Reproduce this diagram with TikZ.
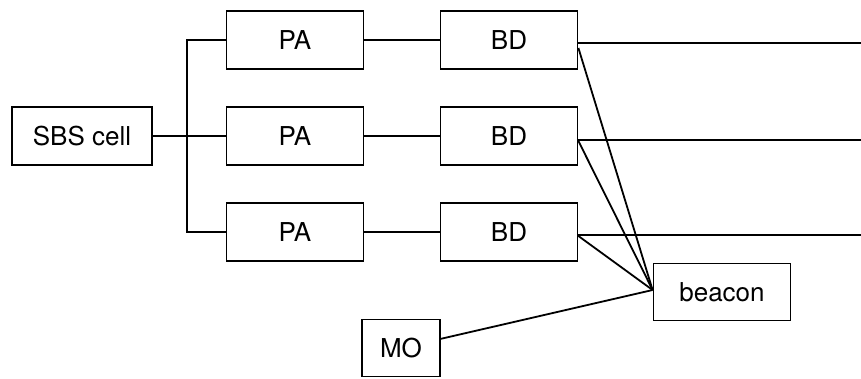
\documentclass[tikz,border=0pt]{standalone}
\usepackage{fontspec}
\setmainfont{TeX Gyre Heros}
\usepackage{tikz}
\usetikzlibrary{positioning}

\begin{document}
\begin{tikzpicture}[x=1pt, y=-1pt, line width=1.8pt,
    every node/.style={font=\fontsize{26}{30}\selectfont},
    block/.style={rectangle, draw, inner sep=0pt, minimum width=137pt, minimum height=58pt}]
    \useasboundingbox (0,0) rectangle (861,379);
            % Define blocks
            \node (sbs) [block, minimum width=140pt] at (82,136) {SBS cell};
            \node (pa1) [block] at (295,40) {PA};
            \node (pa2) [block] at (295,136) {PA};
            \node (pa3) [block] at (295,232) {PA};
            \node (bd1) [block] at (509,40) {BD};
            \node (bd2) [block] at (509,136) {BD};
            \node (bd3) [block] at (509,232) {BD};
            \node (beacon) [block, minimum height=57pt] at (722,292) {beacon};
            \node (mo) [block, minimum width=78pt, minimum height=57pt] at (401,348) {MO};
            
            % Free ends of the outputs
            \coordinate (out1) at (861,43);
            \coordinate (out2) at (861,140);
            \coordinate (out3) at (861,235);
            
            % Draw lines
            \draw (sbs) -- (pa2);
            \draw (pa1.west) -- ++(-39,0) |- (pa3.west);
            \draw (pa1) -- (bd1);
            \draw (pa2) -- (bd2);
            \draw (pa3) -- (bd3);
            
            \draw ([yshift=-3pt]bd1.east) -- (out1);
            \draw ([yshift=-4pt]bd2.east) -- (out2);
            \draw ([yshift=-3pt]bd3.east) -- (out3);
            
            \draw ([yshift=-8pt]bd1.east) -- ([yshift=2pt]beacon.west);
            \draw ([yshift=-5pt]bd2.east) -- ([yshift=2pt]beacon.west);
            \draw ([yshift=-4pt]bd3.east) -- ([yshift=2pt]beacon.west);
            \draw (mo) -- ([yshift=2pt]beacon.west);
        \end{tikzpicture}
\end{document}
